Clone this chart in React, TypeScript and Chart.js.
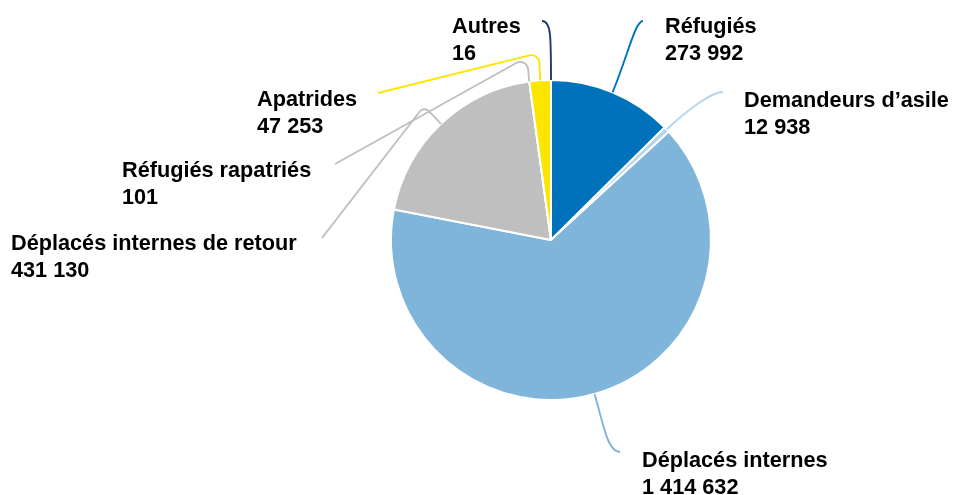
import React, { useEffect, useRef } from "react";
import { Chart, registerables } from "chart.js";

Chart.register(...registerables);

const categories = [
  "Réfugiés",
  "Demandeurs d’asile",
  "Déplacés internes",
  "Déplacés internes de retour",
  "Réfugiés rapatriés",
  "Apatrides",
  "Autres",
];
const values = [273992, 12938, 1414632, 431130, 101, 47253, 16];
const valueLabels = ["273 992", "12 938", "1 414 632", "431 130", "101", "47 253", "16"];
const sliceColors = ["#0072BC", "#B5D5EE", "#7FB5DB", "#BFBFBF", "#BFBFBF", "#FAE600", "#1F3B6B"];

// Layout of labels & leader lines (positions in pixels)
type Leader =
  | { kind: "curve"; end: [number, number]; len: number; approach: number }
  | { kind: "elbow"; corner: [number, number]; end: [number, number]; r: number };

const labelPos: [number, number][] = [
  [665, 33],
  [744, 107],
  [642, 467],
  [11, 250],
  [122, 177],
  [257, 106],
  [452, 33],
];
const leaders: Leader[] = [
  { kind: "curve", end: [643, 21], len: 40, approach: -8 },
  { kind: "curve", end: [723, 92], len: 25, approach: -12 },
  { kind: "curve", end: [620, 452], len: 35, approach: -12 },
  { kind: "elbow", corner: [424, 106], end: [322, 238], r: 6 },
  { kind: "elbow", corner: [527, 57], end: [335, 164], r: 8 },
  { kind: "elbow", corner: [539, 53], end: [378, 93], r: 8 },
  { kind: "curve", end: [542, 21], len: 45, approach: 9 },
];

const labelPlugin = {
  id: "leaderLabels",
  afterDraw(chart: any) {
    const ctx = chart.ctx as CanvasRenderingContext2D;
    const meta = chart.getDatasetMeta(0);
    ctx.save();
    meta.data.forEach((arc: any, i: number) => {
      const mid = (arc.startAngle + arc.endAngle) / 2;
      const r = arc.outerRadius;
      const dx = Math.cos(mid);
      const dy = Math.sin(mid);
      const sx = arc.x + dx * r;
      const sy = arc.y + dy * r;
      const L = leaders[i];
      ctx.strokeStyle = sliceColors[i];
      ctx.lineWidth = 1.9;
      ctx.lineJoin = "round";
      ctx.lineCap = "butt";
      ctx.beginPath();
      ctx.moveTo(sx, sy);
      if (L.kind === "curve") {
        const [ex, ey] = L.end;
        ctx.bezierCurveTo(sx + dx * L.len, sy + dy * L.len, ex + L.approach, ey, ex, ey);
      } else {
        const [cx, cy] = L.corner;
        const [ex, ey] = L.end;
        ctx.arcTo(cx, cy, ex, ey, L.r);
        ctx.lineTo(ex, ey);
      }
      ctx.stroke();

      const [lx, ly] = labelPos[i];
      ctx.fillStyle = "#000000";
      ctx.font = "bold 21.7px 'Liberation Sans', Arial, sans-serif";
      ctx.textAlign = "left";
      ctx.textBaseline = "alphabetic";
      ctx.fillText(categories[i], lx, ly);
      ctx.fillText(valueLabels[i], lx, ly + 27);
    });
    ctx.restore();
  },
};

export default function App() {
  const ref = useRef<HTMLCanvasElement | null>(null);
  useEffect(() => {
    document.body.style.margin = "0";
    const canvas = ref.current;
    if (!canvas) return;
    const chart = new Chart(canvas, {
      type: "pie",
      data: {
        labels: categories,
        datasets: [
          {
            data: values,
            backgroundColor: sliceColors,
            borderColor: "#FFFFFF",
            borderWidth: 2,
          },
        ],
      },
      options: {
        responsive: false,
        animation: false,
        events: [],
        layout: { padding: { left: 390, right: 241, top: 79, bottom: 94 } },
        plugins: {
          legend: { display: false },
          tooltip: { enabled: false },
        },
      },
      plugins: [labelPlugin],
    });
    return () => chart.destroy();
  }, []);
  return (
    <div style={{ position: "absolute", left: 0, top: 0, width: 953, height: 495, background: "#fff" }}>
      <canvas ref={ref} width={953} height={495} style={{ width: 953, height: 495, display: "block" }} />
    </div>
  );
}
